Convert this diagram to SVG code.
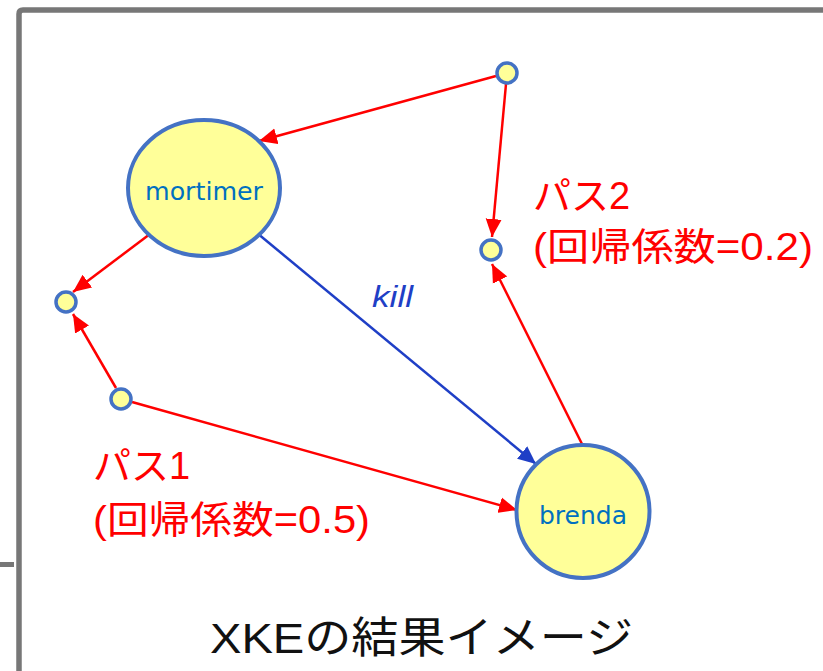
<svg xmlns="http://www.w3.org/2000/svg" width="823" height="671" viewBox="0 0 823 671">
<style>
.node{fill:#FFFF99;stroke:#4472C4;stroke-width:4}
.small{fill:#FFFF99;stroke:#4472C4;stroke-width:3.5}
.name{font-family:"DejaVu Sans","Noto Sans",sans-serif;font-size:25px;fill:#0070C0;text-anchor:middle}
.red{stroke:#FF0000;stroke-width:2.5;fill:none;marker-end:url(#ar)}
.blue{stroke:#1F3FC6;stroke-width:2.5;fill:none;marker-end:url(#ab)}
.lab{font-family:"Liberation Sans","Noto Sans CJK JP",sans-serif;font-size:38px;fill:#FF0000}
</style>
<defs>
<marker id="ar" markerUnits="userSpaceOnUse" markerWidth="19" markerHeight="17" refX="18" refY="8" orient="auto" viewBox="0 0 19 16">
<path d="M0,0 L18,8 L0,16 z" fill="#FF0000"/>
</marker>
<marker id="ab" markerUnits="userSpaceOnUse" markerWidth="19" markerHeight="17" refX="18" refY="8" orient="auto" viewBox="0 0 19 16">
<path d="M0,0 L18,8 L0,16 z" fill="#1F3FC6"/>
</marker>
</defs>
<rect width="823" height="671" fill="#FFFFFF"/>
<g id="frame">
<path d="M19,671 L19,14 Q19,10 23,10 L823,10" fill="none" stroke="#777777" stroke-width="5.5"/>
<rect x="0" y="562" width="14" height="5" fill="#777777"/>
</g>
<g id="connectors">
<line class="red" x1="496" y1="76" x2="259" y2="141"/>
<line class="red" x1="506" y1="84" x2="492" y2="237"/>
<line class="red" x1="583" y1="446" x2="492" y2="264"/>
<line class="red" x1="150" y1="234" x2="73" y2="292"/>
<line class="red" x1="116" y1="388" x2="73" y2="314"/>
<line class="red" x1="132" y1="402" x2="517" y2="510"/>
<line class="blue" x1="257" y1="233" x2="536" y2="464"/>
</g>
<g id="mortimer">
<ellipse class="node" cx="204" cy="188" rx="76" ry="68"/>
<text class="name" x="204" y="200" textLength="118" lengthAdjust="spacingAndGlyphs">mortimer</text>
</g>
<g id="brenda">
<circle class="node" cx="583" cy="511.5" r="66.5"/>
<text class="name" x="583" y="524" textLength="88" lengthAdjust="spacingAndGlyphs">brenda</text>
</g>
<g id="p_top"><circle class="small" cx="507" cy="73" r="10"/></g>
<g id="p_mid"><circle class="small" cx="491" cy="250" r="10"/></g>
<g id="p_left"><circle class="small" cx="66" cy="302" r="10"/></g>
<g id="p_bottom"><circle class="small" cx="121" cy="399" r="10"/></g>
<g id="labels">
<text x="372" y="307" font-family="Liberation Sans, sans-serif" font-style="italic" font-size="30" fill="#1F3FC6" textLength="41" lengthAdjust="spacingAndGlyphs">kill</text>
<text class="lab" x="533" y="209">パス2</text>
<text class="lab" x="533" y="260" textLength="280" lengthAdjust="spacingAndGlyphs">(回帰係数=0.2)</text>
<text class="lab" x="93" y="479">パス1</text>
<text class="lab" x="93" y="533" textLength="277" lengthAdjust="spacingAndGlyphs">(回帰係数=0.5)</text>
<text x="210" y="653" font-family="Liberation Sans, 'Noto Sans CJK JP', sans-serif" font-size="43" fill="#111111" textLength="423" lengthAdjust="spacingAndGlyphs">XKEの結果イメージ</text>
</g>
</svg>
